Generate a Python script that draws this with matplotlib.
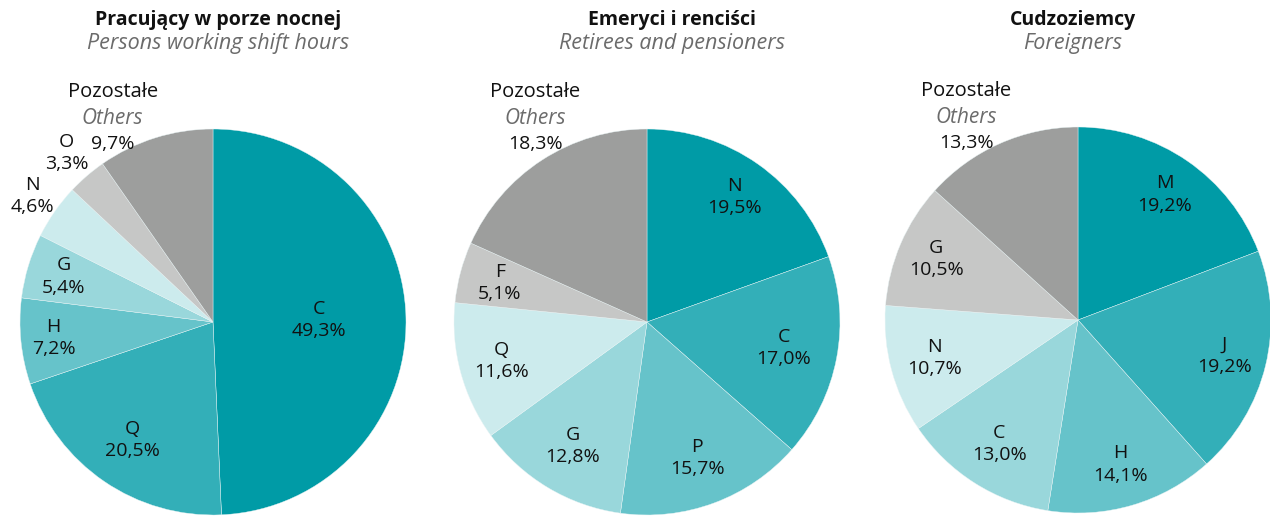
import numpy as np
import matplotlib
matplotlib.use('Agg')
import matplotlib.pyplot as plt

plt.rcParams['font.family'] = ['Open Sans', 'DejaVu Sans']

# Data (shares in %), clockwise from 12 o'clock; last item = "Pozostałe / Others"
night_labels = ['C', 'Q', 'H', 'G', 'N', 'O', 'Pozostałe']
night_values = [49.3, 20.5, 7.2, 5.4, 4.6, 3.3, 9.7]

retired_labels = ['N', 'C', 'P', 'G', 'Q', 'F', 'Pozostałe']
retired_values = [19.5, 17.0, 15.7, 12.8, 11.6, 5.1, 18.3]

foreign_labels = ['M', 'J', 'H', 'C', 'N', 'G', 'Pozostałe']
foreign_values = [19.2, 19.2, 14.1, 13.0, 10.7, 10.5, 13.3]

titles_pl = ['Pracujący w porze nocnej', 'Emeryci i renciści', 'Cudzoziemcy']
titles_en = ['Persons working shift hours', 'Retirees and pensioners', 'Foreigners']

colors = ['#009ba6', '#33afb8', '#66c3ca', '#99d7db', '#ccebed', '#c6c7c6', '#9d9e9d']

# layout (pixels)
W, H = 1270, 517
R = 193
centers = [(213, 322), (647, 322), (1078, 320)]
title_x = [218, 672, 1073]
label_r = [[0.55, 0.74, 0.83, 0.81, 1.14, 1.16],
           [0.79, 0.72, 0.75, 0.75, 0.78, 0.79],
           [0.79, 0.78, 0.78, 0.76, 0.77, 0.80]]
others_x = [-0.52, -0.58, -0.58]

fig = plt.figure(figsize=(W / 100, H / 100), dpi=100)

def fmt(v):
    return f'{v:.1f}'.replace('.', ',') + '%'

datasets = [(night_labels, night_values), (retired_labels, retired_values),
            (foreign_labels, foreign_values)]

for i, (labels, values) in enumerate(datasets):
    cx, cy = centers[i]
    ax = fig.add_axes([(cx - R) / W, (H - cy - R) / H, 2 * R / W, 2 * R / H])
    wedges, _ = ax.pie(values, colors=colors, startangle=90, counterclock=False,
                       radius=1, wedgeprops=dict(edgecolor='#e8f4f5', linewidth=0.3))
    ax.set_xlim(-1, 1)
    ax.set_ylim(-1, 1)
    ax.axis('off')

    for j, w in enumerate(wedges[:-1]):
        ang = np.deg2rad((w.theta1 + w.theta2) / 2)
        rf = label_r[i][j]
        ax.text(rf * np.cos(ang), rf * np.sin(ang), labels[j] + '\n' + fmt(values[j]),
                ha='center', va='center', fontsize=14, linespacing=1.3,
                color='#111111', clip_on=False)

    # "Others" block above-left of the pie
    ox = others_x[i]
    top = 1.19 if i < 2 else 1.185
    step = 26 / R
    ax.text(ox, top, labels[-1], ha='center', va='center', fontsize=14.5,
            color='#111111', clip_on=False)
    ax.text(ox, top - step, 'Others', ha='center', va='center', fontsize=15,
            style='italic', color='#6b6b6b', clip_on=False)
    ax.text(ox, top - 2 * step, fmt(values[-1]), ha='center', va='center',
            fontsize=14, color='#111111', clip_on=False)

    fig.text(title_x[i] / W, 1 - 20 / H, titles_pl[i], ha='center', va='center',
             fontsize=14, fontweight='bold', color='#111111')
    fig.text(title_x[i] / W, 1 - 44 / H, titles_en[i], ha='center', va='center',
             fontsize=15.5, style='italic', color='#6b6b6b')

fig.savefig('out.png', dpi=100)
